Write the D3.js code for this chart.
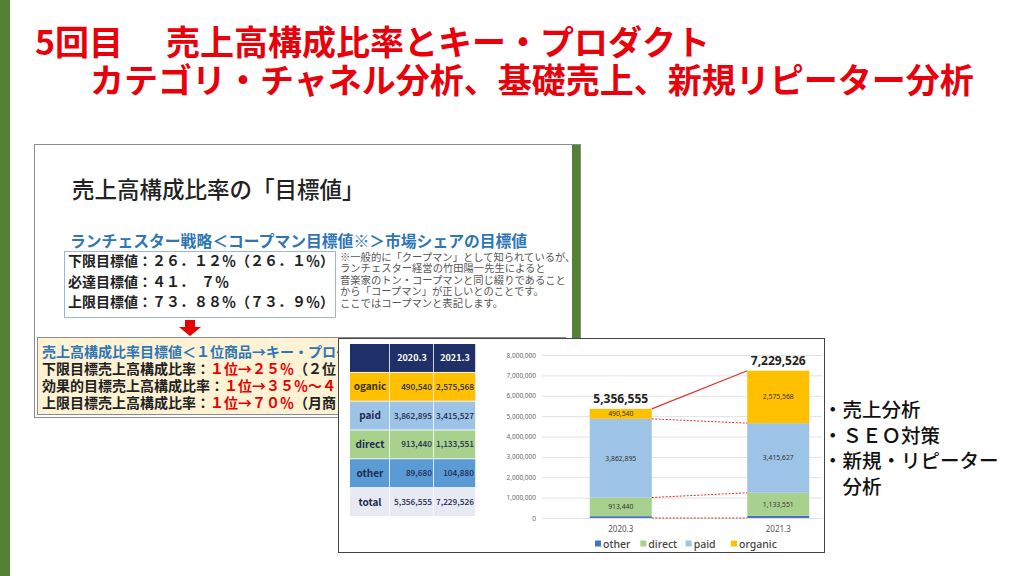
<!DOCTYPE html>
<html>
<head>
<meta charset="utf-8">
<script src="https://cdn.jsdelivr.net/npm/d3@7"></script>
<style>
  body { margin: 0; background: #fff; }
  svg { display: block; font-family: "Noto Sans CJK JP", "Noto Sans", sans-serif; }
</style>
</head>
<body>
<svg width="1024" height="576"></svg>
<script>
// chart data
var categories = ["2020.3", "2021.3"];
var seriesNames = ["other", "direct", "paid", "organic"];
var otherValues = [89680, 104880];
var directValues = [913440, 1133551];
var paidValues = [3862895, 3415627];
var organicValues = [490540, 2575568];
var totalLabels = [5356555, 7229526];
var yTicks = [0, 1000000, 2000000, 3000000, 4000000, 5000000, 6000000, 7000000, 8000000];

// table data
var tableRows = ["oganic", "paid", "direct", "other", "total"];
var table2020 = [490540, 3862895, 913440, 89680, 5356555];
var table2021 = [2575568, 3415527, 1133551, 104880, 7229526];

// slide texts
var titleLine1a = "5回目";
var titleLine1b = "売上高構成比率とキー・プロダクト";
var titleLine2 = "カテゴリ・チャネル分析、基礎売上、新規リピーター分析";
var innerTitle = "売上高構成比率の「目標値」";
var innerSub = "ランチェスター戦略＜コープマン目標値※＞市場シェアの目標値";
var targetLines = ["下限目標値：２６．１２％（２６．１％）", "必達目標値：４１．　７％", "上限目標値：７３．８８％（７３．９％）"];
var noteLines = ["※一般的に「クープマン」として知られているが、", "ランチェスター経営の竹田陽一先生によると",
  "音楽家のトン・コープマンと同じ綴りであること", "から「コープマン」が正しいとのことです。", "ここではコープマンと表記します。"];
var ratioHead = "売上高構成比率目標値＜１位商品→キー・プロダ";
var ratioLines = [
  [["下限目標売上高構成比率：", 0], ["１位→２５％", 1], ["（２位", 0]],
  [["効果的目標売上高構成比率：", 0], ["１位→３５％～４", 1]],
  [["上限目標売上高構成比率：", 0], ["１位→７０％", 1], ["（月商", 0]]
];
var bullets = ["・売上分析", "・ＳＥＯ対策", "・新規・リピーター", "　分析"];

var colors = { other: "#4472c4", direct: "#a9d18e", paid: "#9dc3e6", organic: "#ffc000" };
var fmt = d3.format(",");

var svg = d3.select("svg");

svg.append("defs").append("clipPath").attr("id", "slideClip")
  .append("path").attr("d", "M0,0 H590 V338 H338 V576 H0 Z");

// left green strip
svg.append("rect").attr("x", 0).attr("y", 0).attr("width", 10).attr("height", 576).attr("fill", "#548235");

// title
var red = "#e8000b";
svg.append("text").attr("x", 35).attr("y", 55).attr("font-size", 34).attr("font-weight", 700)
  .attr("fill", red).text(titleLine1a);
svg.append("text").attr("x", 166).attr("y", 55).attr("font-size", 34).attr("font-weight", 700)
  .attr("fill", red).text(titleLine1b);
svg.append("text").attr("x", 90).attr("y", 93).attr("font-size", 34).attr("font-weight", 700)
  .attr("fill", red).text(titleLine2);

// inner slide screenshot
var slide = svg.append("g").attr("clip-path", "url(#slideClip)");
slide.append("rect").attr("x", 34.5).attr("y", 144.5).attr("width", 546).attr("height", 273)
  .attr("fill", "#fff").attr("stroke", "#8c8c8c");
slide.append("rect").attr("x", 572).attr("y", 145).attr("width", 8).attr("height", 193).attr("fill", "#548235");

slide.append("text").attr("x", 72).attr("y", 198).attr("font-size", 22.5).attr("font-weight", 500)
  .attr("fill", "#222").text(innerTitle);
slide.append("text").attr("x", 70).attr("y", 247).attr("font-size", 15.8).attr("font-weight", 700)
  .attr("fill", "#2e75b6").text(innerSub);

slide.append("rect").attr("x", 64.5).attr("y", 251.5).attr("width", 271).attr("height", 66)
  .attr("fill", "#fff").attr("stroke", "#9db6dc");
slide.selectAll("text.target").data(targetLines).enter().append("text")
  .attr("class", "target")
  .attr("x", 68).attr("y", function(d, i) { return 266 + i * 20.5; })
  .attr("font-size", 14).attr("font-weight", 700).attr("fill", "#222")
  .text(function(d) { return d; });

slide.selectAll("text.note").data(noteLines).enter().append("text")
  .attr("class", "note")
  .attr("x", 340).attr("y", function(d, i) { return 261 + i * 11.4; })
  .attr("font-size", 10.3).attr("fill", "#555")
  .text(function(d) { return d; });

// red arrow
slide.append("path")
  .attr("d", "M185,320 L195,320 L195,327 L201,327 L190,336 L179,327 L185,327 Z")
  .attr("fill", "#e60000");

// yellow box
slide.append("rect").attr("x", 37.5).attr("y", 337.5).attr("width", 528).attr("height", 77)
  .attr("fill", "#fdf2d3").attr("stroke", "#8c8c8c");
slide.append("text").attr("x", 42).attr("y", 357).attr("font-size", 14).attr("font-weight", 700)
  .attr("fill", "#2e75b6").text(ratioHead);
ratioLines.forEach(function(line, i) {
  var t = slide.append("text").attr("x", 42).attr("y", 374 + i * 17)
    .attr("font-size", 14).attr("font-weight", 700);
  line.forEach(function(part) {
    t.append("tspan").attr("fill", part[1] ? "#e60000" : "#222").text(part[0]);
  });
});

// chart screenshot overlay
var ov = svg.append("g");
ov.append("rect").attr("x", 338.5).attr("y", 338.5).attr("width", 486).attr("height", 214)
  .attr("fill", "#fff").attr("stroke", "#444");

// table
var rowScale = d3.scaleBand().domain(["head"].concat(tableRows)).range([344, 516]).paddingInner(0.03);
var colEdges = [350, 390, 434, 476];
var rowFill = { head: "#1f3069", oganic: "#ffc000", paid: "#9dc3e6", direct: "#a9d18e", other: "#5b9bd5", total: "#e8eaf3" };
var tbl = ov.append("g");
["head"].concat(tableRows).forEach(function(r) {
  for (var c = 0; c < 3; c++) {
    tbl.append("rect").attr("x", colEdges[c]).attr("y", rowScale(r))
      .attr("width", colEdges[c + 1] - colEdges[c] - 0.8).attr("height", rowScale.bandwidth())
      .attr("fill", rowFill[r]);
  }
});
tbl.selectAll("text.hd").data(categories).enter().append("text")
  .attr("class", "hd")
  .attr("x", function(d, i) { return (colEdges[i + 1] + colEdges[i + 2]) / 2; })
  .attr("y", rowScale("head") + rowScale.bandwidth() / 2 + 3.5)
  .attr("text-anchor", "middle").attr("font-size", 9).attr("font-weight", 700).attr("fill", "#fff")
  .text(function(d) { return d; });
tbl.selectAll("text.rl").data(tableRows).enter().append("text")
  .attr("class", "rl")
  .attr("x", (colEdges[0] + colEdges[1]) / 2)
  .attr("y", function(d) { return rowScale(d) + rowScale.bandwidth() / 2 + 3.5; })
  .attr("text-anchor", "middle").attr("font-size", 10).attr("font-weight", 700)
  .attr("fill", function(d) { return d === "oganic" ? "#3a3000" : "#1e2b50"; })
  .text(function(d) { return d; });
[table2020, table2021].forEach(function(vals, c) {
  tbl.selectAll("text.v" + c).data(vals).enter().append("text")
    .attr("class", "v" + c)
    .attr("x", colEdges[c + 2] - 2)
    .attr("y", function(d, i) { return rowScale(tableRows[i]) + rowScale.bandwidth() / 2 + 3; })
    .attr("text-anchor", "end").attr("font-size", 8.3).attr("font-weight", 500).attr("fill", "#1e2b50")
    .text(function(d) { return fmt(d); });
});

// stacked bar chart
var y = d3.scaleLinear().domain([0, 8000000]).range([518, 355]);
var x = d3.scalePoint().domain(categories).range([542, 857]).padding(0.5);
var barW = 62;

var rows = categories.map(function(c, i) {
  return { cat: c, other: otherValues[i], direct: directValues[i], paid: paidValues[i], organic: organicValues[i] };
});
var stack = d3.stack().keys(seriesNames)(rows);

var grid = ov.append("g").attr("transform", "translate(542,0)")
  .call(d3.axisLeft(y).tickValues(yTicks).tickSize(-280).tickFormat(d3.format(",")));
grid.select(".domain").remove();
grid.selectAll(".tick line").attr("stroke", "#e2e2e2");
grid.selectAll(".tick text").attr("x", -6).attr("font-size", 6.5).attr("fill", "#666")
  .attr("font-family", "Noto Sans, sans-serif");

ov.selectAll("g.series").data(stack).enter().append("g")
  .attr("class", "series")
  .attr("fill", function(d) { return colors[d.key]; })
  .selectAll("rect").data(function(d) { return d; }).enter().append("rect")
  .attr("x", function(d) { return x(d.data.cat) - barW / 2; })
  .attr("y", function(d) { return y(d[1]); })
  .attr("width", barW)
  .attr("height", function(d) { return y(d[0]) - y(d[1]); });

// segment labels (skip "other", too thin)
stack.filter(function(s) { return s.key !== "other"; }).forEach(function(s) {
  ov.selectAll("text.seg-" + s.key).data(s).enter().append("text")
    .attr("x", function(d) { return x(d.data.cat); })
    .attr("y", function(d) { return (y(d[0]) + y(d[1])) / 2 + 2.5; })
    .attr("text-anchor", "middle").attr("font-size", 6.8).attr("fill", "#333")
    .attr("font-family", "Noto Sans, sans-serif")
    .text(function(d) { return fmt(d.data[s.key]); });
});

// totals
ov.selectAll("text.total").data(categories).enter().append("text")
  .attr("x", function(d) { return x(d); })
  .attr("y", function(d, i) { return y(d3.sum(seriesNames, function(k) { return rows[i][k]; })) - 6; })
  .attr("text-anchor", "middle").attr("font-size", 12).attr("font-weight", 700).attr("fill", "#222")
  .attr("font-family", "Noto Sans, sans-serif")
  .text(function(d, i) { return fmt(totalLabels[i]); });

// connector lines
var x0 = x(categories[0]) + barW / 2, x1 = x(categories[1]) - barW / 2;
var topS = stack[stack.length - 1];
ov.append("line").attr("x1", x0).attr("y1", y(topS[0][1])).attr("x2", x1).attr("y2", y(topS[1][1]))
  .attr("stroke", "#e03030").attr("stroke-width", 1.2);
[null, stack[1], stack[2]].forEach(function(s) {
  var a = s ? s[0][1] : 0, b = s ? s[1][1] : 0;
  ov.append("line").attr("x1", x0).attr("y1", y(a)).attr("x2", x1).attr("y2", y(b))
    .attr("stroke", "#e03030").attr("stroke-width", 1).attr("stroke-dasharray", "2,1.5");
});

// x labels
ov.selectAll("text.cat").data(categories).enter().append("text")
  .attr("x", function(d) { return x(d); }).attr("y", 532)
  .attr("text-anchor", "middle").attr("font-size", 8).attr("fill", "#555")
  .attr("font-family", "Noto Sans, sans-serif")
  .text(function(d) { return d; });

// legend
var legX = d3.scalePoint().domain(seriesNames).range([595, 731]);
var leg = ov.selectAll("g.leg").data(seriesNames).enter().append("g")
  .attr("transform", function(d) { return "translate(" + legX(d) + ",544)"; });
leg.append("rect").attr("x", 0).attr("y", -3.5).attr("width", 6).attr("height", 6)
  .attr("fill", function(d) { return colors[d]; });
leg.append("text").attr("x", 8).attr("y", 3.5).attr("font-size", 10.5).attr("font-weight", 500).attr("fill", "#444")
  .attr("font-family", "Noto Sans, sans-serif")
  .text(function(d) { return d; });

// bullets on the right
svg.selectAll("text.bullet").data(bullets).enter().append("text")
  .attr("x", 823).attr("y", function(d, i) { return 417 + i * 25.5; })
  .attr("font-size", 19.5).attr("font-weight", 500).attr("fill", "#111")
  .text(function(d) { return d; });
</script>
</body>
</html>
